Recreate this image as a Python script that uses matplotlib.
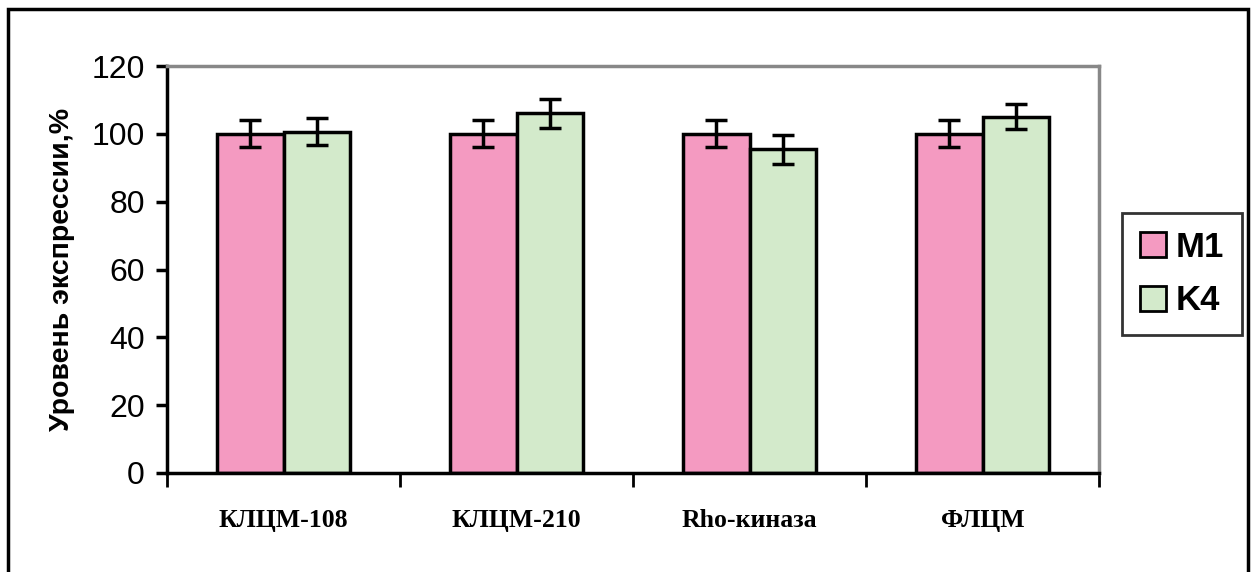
import matplotlib
matplotlib.use('Agg')
import matplotlib.pyplot as plt
from matplotlib.patches import Rectangle
import numpy as np

categories = ['КЛЦМ-108', 'КЛЦМ-210', 'Rho-киназа', 'ФЛЦМ']
m1_values = [100, 100, 100, 100]
m1_errors = [4, 4, 4, 4]
k4_values = [100.6, 106, 95.4, 105]
k4_errors = [4, 4.2, 4.2, 3.7]
series_names = ['M1', 'K4']
colors = ['#F49AC1', '#D3EACB']

fig = plt.figure(figsize=(12.51, 5.72), dpi=100)
ax = fig.add_axes([167 / 1251, 1 - 473 / 572, (1099 - 167) / 1251, (473 - 66) / 572])

x = np.arange(len(categories))
w = 0.287
err_kw = dict(ecolor='black', elinewidth=2.5, capsize=8, capthick=2.5)
ax.bar(x - w / 2, m1_values, w, yerr=m1_errors, color=colors[0], edgecolor='black',
       linewidth=2.5, label=series_names[0], error_kw=err_kw, zorder=2)
ax.bar(x + w / 2, k4_values, w, yerr=k4_errors, color=colors[1], edgecolor='black',
       linewidth=2.5, label=series_names[1], error_kw=err_kw, zorder=2)

ax.set_xlim(-0.5, len(categories) - 0.5)
ax.set_ylim(0, 120)
ax.set_yticks(range(0, 121, 20))
ax.set_xticks(x)
ax.set_xticklabels(categories, fontfamily='Liberation Serif', fontweight='bold', fontsize=18.5)
ax.set_xticks(np.arange(-0.5, len(categories), 1.0), minor=True)
ax.tick_params(axis='x', which='major', length=0, pad=26)
ax.tick_params(axis='x', which='minor', length=10, width=2, direction='out')
ax.tick_params(axis='y', length=8, width=2.5, direction='out', pad=8)
for lab in ax.get_yticklabels():
    lab.set_fontfamily('Liberation Sans')
    lab.set_fontsize(23)

for s in ['left', 'bottom']:
    ax.spines[s].set_linewidth(2.5)
for s in ['top', 'right']:
    ax.spines[s].set_color('#888888')
    ax.spines[s].set_linewidth(2.5)

ax.set_ylabel('Уровень экспрессии,%', fontfamily='Liberation Sans', fontweight='bold',
              fontsize=20.5, labelpad=12)

leg = fig.legend(loc='center', bbox_to_anchor=(1182 / 1251, 1 - 274 / 572), frameon=True,
                 fancybox=False, edgecolor='black', handlelength=0.75, handleheight=0.75,
                 handletextpad=0.3, labelspacing=0.6, borderpad=0.5,
                 prop={'family': 'Liberation Sans', 'weight': 'bold', 'size': 25})
leg.get_frame().set_linewidth(2)
for h in leg.legend_handles:
    h.set_linewidth(2)

fig.patches.append(Rectangle((8 / 1251, -0.05), (1248 - 8) / 1251, 1.05 - 9 / 572,
                             transform=fig.transFigure, fill=False, edgecolor='black',
                             linewidth=2.5))

fig.savefig('out.png', dpi=100)
